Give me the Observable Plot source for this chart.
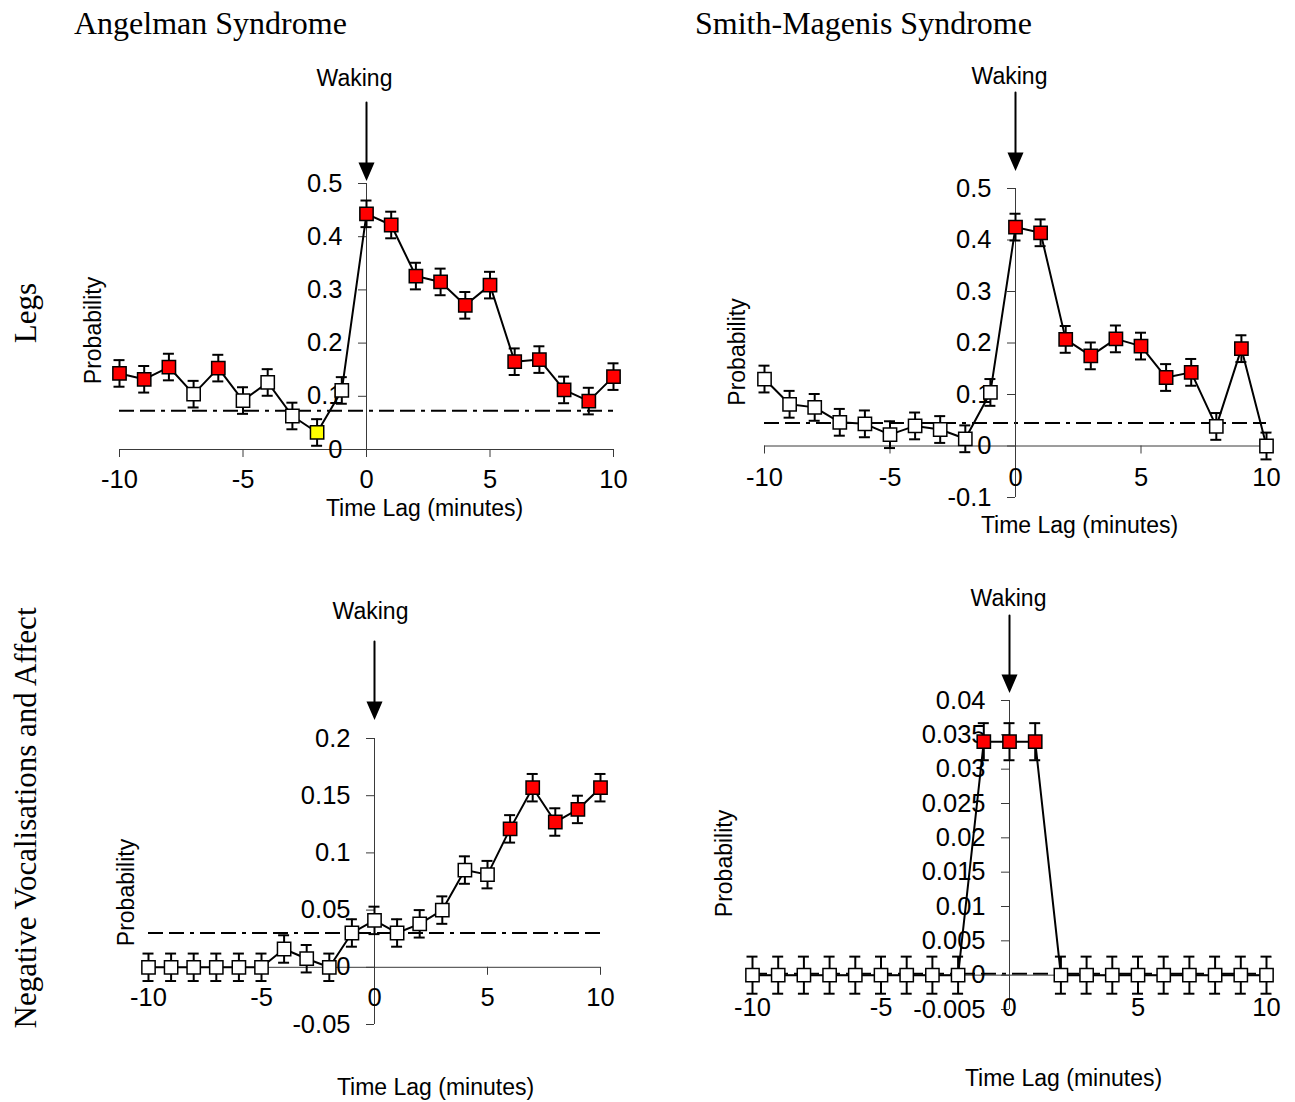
<!DOCTYPE html>
<html>
<head>
<meta charset="utf-8">
<script src="https://cdn.jsdelivr.net/npm/d3@7"></script>
<script src="https://cdn.jsdelivr.net/npm/@observablehq/plot@0.6"></script>
<style>
  html, body { margin: 0; padding: 0; background: #fff; }
  #root { position: relative; width: 1295px; height: 1102px; background: #fff; overflow: hidden; }
  .panel { position: absolute; }
  .title { position: absolute; font-family: "Liberation Serif", "Times New Roman", serif; font-size: 32px; line-height: 1; color: #000; white-space: nowrap; }
  .row { position: absolute; font-family: "Liberation Serif", "Times New Roman", serif; font-size: 31px; line-height: 1; color: #000; white-space: nowrap; transform: translate(-50%, -50%) rotate(-90deg); }
</style>
</head>
<body>
<div id="root">
  <div class="title" style="left:74px; top:7px;">Angelman Syndrome</div>
  <div class="title" style="left:695px; top:7px;">Smith-Magenis Syndrome</div>
  <div class="row" style="left:25px; top:313px;">Legs</div>
  <div class="row" style="left:25px; top:818px;">Negative Vocalisations and Affect</div>
</div>
<script>
// ---------- data ----------
const lags = [-10, -9, -8, -7, -6, -5, -4, -3, -2, -1, 0, 1, 2, 3, 4, 5, 6, 7, 8, 9, 10];
const xTicks = [-10, -5, 0, 5, 10];
const xTickLabels = ["-10", "-5", "0", "5", "10"];

// Angelman – Legs
const asLegsP   = [0.143, 0.132, 0.155, 0.104, 0.153, 0.092, 0.126, 0.063, 0.032, 0.111, 0.443, 0.422, 0.326, 0.315, 0.271, 0.309, 0.165, 0.169, 0.112, 0.091, 0.137];
const asLegsErr = [0.025, 0.025, 0.025, 0.025, 0.025, 0.025, 0.025, 0.025, 0.025, 0.025, 0.025, 0.025, 0.025, 0.025, 0.025, 0.025, 0.025, 0.025, 0.025, 0.025, 0.025];
const asLegsSig = ["hi","hi","hi","ns","hi","ns","ns","ns","lo","ns","hi","hi","hi","hi","hi","hi","hi","hi","hi","hi","hi"];
const asLegsBase = [0.073];
const asLegsYTicks = [0, 0.1, 0.2, 0.3, 0.4, 0.5];
const asLegsYLabels = ["0", "0.1", "0.2", "0.3", "0.4", "0.5"];

// Smith-Magenis – Legs
const smsLegsP   = [0.130, 0.081, 0.075, 0.046, 0.043, 0.022, 0.039, 0.032, 0.014, 0.104, 0.425, 0.414, 0.207, 0.175, 0.208, 0.194, 0.133, 0.143, 0.038, 0.189, 0.000];
const smsLegsErr = [0.026, 0.026, 0.026, 0.026, 0.026, 0.026, 0.026, 0.026, 0.026, 0.026, 0.026, 0.026, 0.026, 0.026, 0.026, 0.026, 0.026, 0.026, 0.026, 0.026, 0.026];
const smsLegsSig = ["ns","ns","ns","ns","ns","ns","ns","ns","ns","ns","hi","hi","hi","hi","hi","hi","hi","hi","ns","hi","ns"];
const smsLegsBase = [0.0445];
const smsLegsYTicks = [-0.1, 0, 0.1, 0.2, 0.3, 0.4, 0.5];
const smsLegsYLabels = ["-0.1", "0", "0.1", "0.2", "0.3", "0.4", "0.5"];

// Angelman – Negative Vocalisations and Affect
const asNegP   = [0, 0, 0, 0, 0, 0, 0.016, 0.0075, 0, 0.030, 0.041, 0.030, 0.038, 0.050, 0.085, 0.081, 0.121, 0.157, 0.127, 0.138, 0.157];
const asNegErr = [0.012, 0.012, 0.012, 0.012, 0.012, 0.012, 0.012, 0.012, 0.012, 0.012, 0.012, 0.012, 0.012, 0.012, 0.012, 0.012, 0.012, 0.012, 0.012, 0.012, 0.012];
const asNegSig = ["ns","ns","ns","ns","ns","ns","ns","ns","ns","ns","ns","ns","ns","ns","ns","ns","hi","hi","hi","hi","hi"];
const asNegBase = [0.030];
const asNegYTicks = [-0.05, 0, 0.05, 0.1, 0.15, 0.2];
const asNegYLabels = ["-0.05", "0", "0.05", "0.1", "0.15", "0.2"];

// Smith-Magenis – Negative Vocalisations and Affect
const smsNegP   = [0, 0, 0, 0, 0, 0, 0, 0, 0, 0.034, 0.034, 0.034, 0, 0, 0, 0, 0, 0, 0, 0, 0];
const smsNegErr = [0.0027, 0.0027, 0.0027, 0.0027, 0.0027, 0.0027, 0.0027, 0.0027, 0.0027, 0.0027, 0.0027, 0.0027, 0.0027, 0.0027, 0.0027, 0.0027, 0.0027, 0.0027, 0.0027, 0.0027, 0.0027];
const smsNegSig = ["ns","ns","ns","ns","ns","ns","ns","ns","ns","hi","hi","hi","ns","ns","ns","ns","ns","ns","ns","ns","ns"];
const smsNegBase = [0.0002];
const smsNegYTicks = [-0.005, 0, 0.005, 0.01, 0.015, 0.02, 0.025, 0.03, 0.035, 0.04];
const smsNegYLabels = ["-0.005", "0", "0.005", "0.01", "0.015", "0.02", "0.025", "0.03", "0.035", "0.04"];

// ---------- styling ----------
const sigFill = { hi: "#ff0000", ns: "#ffffff", lo: "#ffff00" };
const SANS = "'Liberation Sans', Arial, sans-serif";
const TICK_FS = 25.5;
const LABEL_FS = 23;

const arrowShape = {
  draw(context, l) {
    context.moveTo(0, 0);
    context.lineTo(0, -l + 12);
    context.moveTo(0, -l);
    context.lineTo(-6.5, -l + 15);
    context.lineTo(6.5, -l + 15);
    context.closePath();
  }
};

function panel(cfg) {
  const data = lags.map((lag, i) => ({ lag, p: cfg.p[i], e: cfg.err[i], fill: sigFill[cfg.sig[i]] }));
  const yt = cfg.yTicks.map((v, i) => ({ v, label: cfg.yLabels[i] }));
  const xt = xTicks.map((v, i) => ({ v, label: xTickLabels[i] }));
  const [y0, y1] = cfg.yDomain;

  const svg = Plot.plot({
    width: cfg.w, height: cfg.h,
    marginLeft: cfg.mL, marginRight: cfg.mR, marginTop: cfg.mT, marginBottom: cfg.mB,
    x: { domain: [-10, 10], axis: null },
    y: { domain: cfg.yDomain, axis: null },
    color: { type: "identity" },
    style: { fontFamily: SANS, fontSize: LABEL_FS + "px", background: "transparent", color: "black", overflow: "visible" },
    marks: [
      // reference (chance) line
      Plot.ruleY(cfg.base, { y: d => d, x1: -10, x2: 10, stroke: "black", strokeWidth: 2, strokeDasharray: "15,6,15,6,4,6" }),
      // axes lines
      Plot.ruleX([0], { x: d => d, y1: y0, y2: y1, stroke: "#3a3a3a", strokeWidth: 1 }),
      Plot.ruleY([0], { y: d => d, x1: -10, x2: 10, stroke: "#3a3a3a", strokeWidth: 1 }),
      // tick marks
      Plot.ruleY(yt, { y: "v", x1: 0, x2: 0, insetLeft: -8, stroke: "#3a3a3a", strokeWidth: 1 }),
      Plot.ruleX(xt, { x: "v", y1: 0, y2: 0, insetBottom: -8, stroke: "#3a3a3a", strokeWidth: 1 }),
      // tick labels
      Plot.text(yt, { x: 0, y: "v", text: "label", textAnchor: "end", lineAnchor: "middle", dx: -24, fontSize: TICK_FS, fill: "black" }),
      Plot.text(xt, { x: "v", y: 0, text: "label", lineAnchor: "middle", dy: cfg.xLabDy, fontSize: TICK_FS, fill: "black" }),
      // error bars
      Plot.ruleX(data, { x: "lag", y1: d => d.p - d.e, y2: d => d.p + d.e, stroke: "black", strokeWidth: 2 }),
      Plot.ruleY(data, { y: d => d.p + d.e, x1: "lag", x2: "lag", insetLeft: -5.5, insetRight: -5.5, stroke: "black", strokeWidth: 2 }),
      Plot.ruleY(data, { y: d => d.p - d.e, x1: "lag", x2: "lag", insetLeft: -5.5, insetRight: -5.5, stroke: "black", strokeWidth: 2 }),
      // series
      Plot.line(data, { x: "lag", y: "p", stroke: "black", strokeWidth: 2 }),
      Plot.dot(data, { x: "lag", y: "p", symbol: "square", r: 7.5, fill: "fill", stroke: "black", strokeWidth: 1.5 }),
      // annotation: waking
      Plot.vector([0], { x: d => d, frameAnchor: "top", dy: cfg.arrowDy, length: cfg.arrowLen, rotate: 180, anchor: "end",
        shape: arrowShape, stroke: "black", fill: "black", strokeWidth: 2, strokeLinejoin: "miter" }),
      Plot.text(["Waking"], { x: 0, frameAnchor: "top", lineAnchor: "middle", textAnchor: "middle", text: d => d, dx: cfg.wakeDx, dy: cfg.wakeDy, fontSize: LABEL_FS, fill: "black" }),
      // axis titles
      Plot.text(["Time Lag (minutes)"], { frameAnchor: "bottom", lineAnchor: "middle", textAnchor: "middle", text: d => d, dx: cfg.xTitleDx, dy: cfg.xTitleDy, fontSize: LABEL_FS, fill: "black" }),
      Plot.text(["Probability"], { frameAnchor: "left", lineAnchor: "middle", textAnchor: "middle", text: d => d, rotate: -90, dx: cfg.yTitleDx, dy: cfg.yTitleDy, fontSize: LABEL_FS, fill: "black" })
    ]
  });

  const wrap = document.createElement("div");
  wrap.className = "panel";
  wrap.style.left = cfg.left + "px";
  wrap.style.top = cfg.top + "px";
  wrap.appendChild(svg);
  document.getElementById("root").appendChild(wrap);
}

panel({
  p: asLegsP, err: asLegsErr, sig: asLegsSig, base: asLegsBase,
  yTicks: asLegsYTicks, yLabels: asLegsYLabels, yDomain: [0, 0.5],
  left: 60, top: 50, w: 600, h: 480, mL: 59, mR: 47, mT: 133, mB: 81,
  xLabDy: 30, arrowDy: -5, arrowLen: 76, wakeDx: -12, wakeDy: -105,
  xTitleDx: 58, xTitleDy: 59, yTitleDx: -26, yTitleDy: 14
});

panel({
  p: smsLegsP, err: smsLegsErr, sig: smsLegsSig, base: smsLegsBase,
  yTicks: smsLegsYTicks, yLabels: smsLegsYLabels, yDomain: [-0.1, 0.5],
  left: 690, top: 50, w: 600, h: 500, mL: 74, mR: 24, mT: 138, mB: 53,
  xLabDy: 32, arrowDy: -20, arrowLen: 76, wakeDx: -6, wakeDy: -112,
  xTitleDx: 64, xTitleDy: 28, yTitleDx: -27, yTitleDy: 9
});

panel({
  p: asNegP, err: asNegErr, sig: asNegSig, base: asNegBase,
  yTicks: asNegYTicks, yLabels: asNegYLabels, yDomain: [-0.05, 0.2],
  left: 60, top: 580, w: 600, h: 520, mL: 88, mR: 60, mT: 158, mB: 76,
  xLabDy: 31, arrowDy: -21, arrowLen: 76, wakeDx: -4, wakeDy: -127,
  xTitleDx: 61, xTitleDy: 63, yTitleDx: -22, yTitleDy: 11
});

panel({
  p: smsNegP, err: smsNegErr, sig: smsNegSig, base: smsNegBase,
  yTicks: smsNegYTicks, yLabels: smsNegYLabels, yDomain: [-0.005, 0.04],
  left: 690, top: 570, w: 600, h: 530, mL: 62, mR: 24, mT: 130, mB: 91,
  xLabDy: 33, arrowDy: -10, arrowLen: 75, wakeDx: -1, wakeDy: -102,
  xTitleDx: 54, xTitleDy: 69, yTitleDx: -28, yTitleDy: 8.5
});
</script>
</body>
</html>
